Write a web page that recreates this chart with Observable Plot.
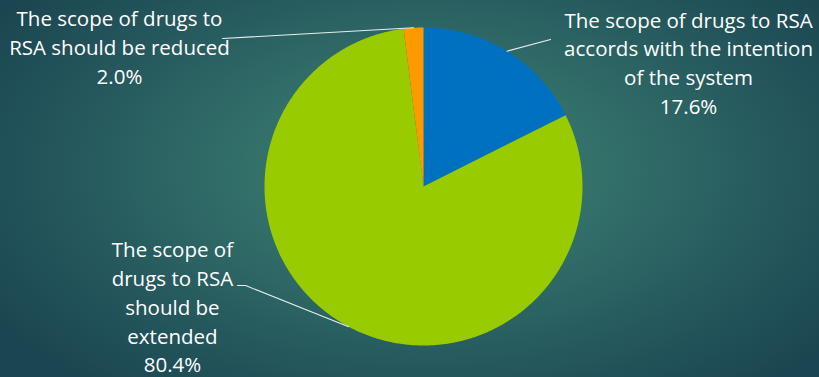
<!DOCTYPE html>
<html>
<head>
<meta charset="utf-8">
<script src="https://cdn.jsdelivr.net/npm/d3@7"></script>
<script src="https://cdn.jsdelivr.net/npm/@observablehq/plot@0.6"></script>
<style>
  html, body { margin: 0; padding: 0; }
  body {
    width: 819px; height: 377px; overflow: hidden;
    background: radial-gradient(ellipse 62% 75% at 52% 45%, #3f7c70 0%, #33706a 35%, #25585d 70%, #1b4651 100%);
  }
  #chart svg { display: block; }
</style>
</head>
<body>
<div id="chart"></div>
<script>
// ---- data ----
const categories = [
  "The scope of drugs to RSA accords with the intention of the system",
  "The scope of drugs to RSA should be extended",
  "The scope of drugs to RSA should be reduced"
];
const values = [17.6, 80.4, 2.0];
const labelTexts = [
  "The scope of drugs to RSA\naccords with the intention\nof the system",
  "The scope of\ndrugs to RSA\nshould be\nextended",
  "The scope of drugs to\nRSA should be reduced"
];
const colors = ["#0070C0", "#99CC00", "#FF9900"];

// ---- layout (unit-radius coordinates, pie centre at 0,0) ----
const labelPos = [[1.667, 0.785], [-1.579, -0.748], [-1.912, 0.887]];
const leaderBends = [
  [[0.799, 0.925]],
  [[-1.119, -0.623], [-1.170, -0.623]],
  [[-1.264, 0.931]]
];

const W = 819, H = 377, R = 159, CX = 423, CY = 186;

const pie = d3.pie().sort(null).value(d => d.value)(
  categories.map((c, i) => ({key: c, value: values[i], i}))
);

// wedge outlines
const wedges = [];
for (const p of pie) {
  const k = p.data.key;
  wedges.push({key: k, x: 0, y: 0});
  const steps = Math.max(2, Math.ceil((p.endAngle - p.startAngle) / (Math.PI / 360)));
  for (let s = 0; s <= steps; s++) {
    const a = p.startAngle + (p.endAngle - p.startAngle) * s / steps;
    wedges.push({key: k, x: Math.sin(a), y: Math.cos(a)});
  }
}

// leader lines
const leaders = [];
for (const p of pie) {
  const a = (p.startAngle + p.endAngle) / 2;
  leaders.push({key: p.data.key, x: Math.sin(a), y: Math.cos(a)});
  for (const [bx, by] of leaderBends[p.data.i]) leaders.push({key: p.data.key, x: bx, y: by});
}

const labels = pie.map(p => ({
  key: p.data.key,
  x: labelPos[p.data.i][0],
  y: labelPos[p.data.i][1],
  text: labelTexts[p.data.i] + "\n" + p.data.value.toFixed(1) + "%"
}));

const chart = Plot.plot({
  width: W, height: H,
  margin: 0,
  style: {background: "transparent", color: "white", fontFamily: "'Open Sans', sans-serif"},
  x: {domain: [-CX / R, (W - CX) / R], axis: null},
  y: {domain: [-(H - CY) / R, CY / R], axis: null},
  color: {domain: categories, range: colors},
  marks: [
    Plot.line(wedges, {x: "x", y: "y", z: "key", fill: "key", stroke: "none", curve: "linear-closed"}),
    Plot.line(leaders, {x: "x", y: "y", z: "key", stroke: "#e8eeee", strokeWidth: 1.1}),
    Plot.text(labels, {x: "x", y: "y", text: "text", fill: "white", fontSize: 20.5,
      lineHeight: 1.41, textAnchor: "middle", lineAnchor: "middle"})
  ]
});
document.getElementById("chart").appendChild(chart);
</script>
</body>
</html>
